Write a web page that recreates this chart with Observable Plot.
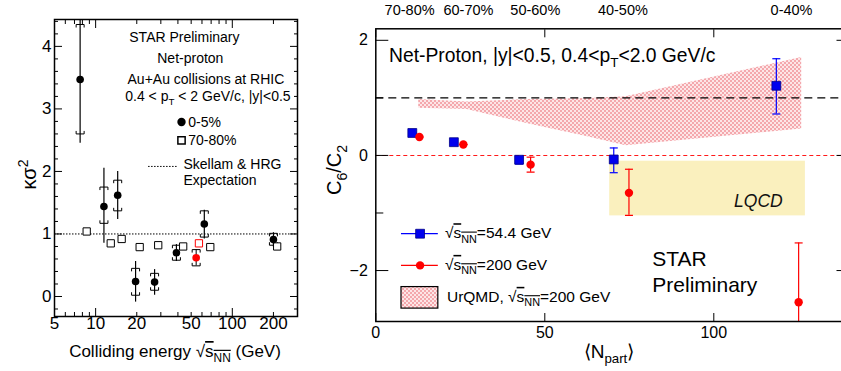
<!DOCTYPE html>
<html>
<head>
<meta charset="utf-8">
<script src="https://cdn.jsdelivr.net/npm/d3@7"></script>
<script src="https://cdn.jsdelivr.net/npm/@observablehq/plot@0.6"></script>
<style>
  html, body { margin: 0; padding: 0; background: #fff; }
  #wrap { position: relative; width: 841px; height: 371px; overflow: hidden; background: #fff; }
  #left, #right { position: absolute; top: 0; }
  #left { left: 0; width: 310px; }
  #right { left: 310px; width: 550px; }
  #left svg, #right svg { max-width: none !important; }
</style>
</head>
<body>
<div id="wrap"><div id="left"></div><div id="right"></div></div>
<script>
const FONT = '"Liberation Sans", Arial, Helvetica, sans-serif';

// ===== Left panel: net-proton kappa*sigma^2 vs colliding energy =====
const energyCentral = [7.7, 11.5, 14.5, 19.6, 27, 39, 62.4, 200];
const ksCentral     = [3.47, 1.44, 1.62, 0.24, 0.23, 0.70, 1.16, 0.91];
const statLoCentral = [2.45, 0.85, 1.23, -0.09, 0.02, 0.56, 0.92, 0.79];
const statHiCentral = [4.60, 2.05, 2.00, 0.56, 0.43, 0.83, 1.38, 1.02];
const sysLoCentral  = [2.60, 1.17, 1.37, 0.02, 0.10, 0.58, 0.95, 0.82];
const sysHiCentral  = [4.35, 1.75, 1.86, 0.45, 0.37, 0.82, 1.37, 1.01];

const energyPeriph = [8.6, 12.9, 15.5, 21.0, 28.7, 43.7, 69, 213];
const ksPeriph     = [1.04, 0.85, 0.92, 0.79, 0.82, 0.80, 0.79, 0.80];

const energyNewCentral = [54.4];
const ksNewCentral     = [0.62];
const sysLoNewCentral  = [0.49];
const sysHiNewCentral  = [0.75];
const energyNewPeriph  = [57];
const ksNewPeriph      = [0.85];

const xLabelsL = [5, 10, 20, 50, 100, 200];
const xMajorL  = [10, 100];
const xMinorL  = [6, 7, 8, 9, 20, 30, 40, 50, 60, 70, 80, 90, 200, 300];
const yLabelsL = [0, 1, 2, 3, 4];
const yMinorL  = [-0.2, 0.2, 0.4, 0.6, 0.8, 1.2, 1.4, 1.6, 1.8, 2.2, 2.4, 2.6, 2.8, 3.2, 3.4, 3.6, 3.8, 4.2, 4.4];

const noteTextL = ["STAR Preliminary", "Net-proton", "Au+Au collisions at RHIC"];
const noteXL = [44.6, 49.3, 64.1];
const noteYL = [4.144, 3.808, 3.472];

const legTextL = ["0-5%", "70-80%", "Skellam & HRG", "Expectation"];
const legTextXL = [47.6, 47.6, 43.9, 43.9];
const legTextYL = [2.79, 2.496, 2.112, 1.856];

// ===== Right panel: C6/C2 vs <Npart> =====
const npart544 = [10.8, 23.1, 42.4, 70.4, 118.5];
const c6c2_544 = [0.39, 0.23, -0.075, -0.07, 1.21];
const errLo544 = [0.39, 0.23, -0.15, -0.30, 0.72];
const errHi544 = [0.39, 0.23, -0.03, 0.13, 1.68];

const npart200 = [12.9, 25.9, 45.8, 74.9, 125.1];
const c6c2_200 = [0.32, 0.19, -0.16, -0.65, -2.55];
const errLo200 = [0.32, 0.19, -0.29, -1.04, -3.58];
const errHi200 = [0.32, 0.19, -0.03, -0.24, -1.52];

const urqmdNpart = [12.7, 27, 45, 63, 74, 126];
const urqmdLo    = [0.82, 0.80, 0.55, 0.32, 0.17, 0.46];
const urqmdHi    = [0.97, 0.93, 0.97, 0.99, 1.02, 1.70];

const lqcdNpart = [69.2, 127.1];
const lqcdC6C2  = [-1.05, -0.10];

const centLabels = ["70-80%", "60-70%", "50-60%", "40-50%", "0-40%"];
const centNpart  = [10.0, 27.4, 47.2, 73.1, 123.0];

const xLabelsR = [0, 50, 100];
const yLabelsR = [-2, 0, 2];
const yMinorR  = [-1, 1];

// ---- helpers ----
function rich(sel, x, y, parts, o = {}) {
  const size = o.size || 14;
  const t = sel.append("text")
    .attr("transform", `translate(${x},${y})` + (o.rotate ? ` rotate(${o.rotate})` : ""))
    .attr("text-anchor", o.anchor || "start")
    .attr("font-size", size)
    .attr("font-family", FONT)
    .attr("fill", o.fill || "black");
  let cur = 0;
  for (const p of parts) {
    const [s, k = ""] = Array.isArray(p) ? p : [p];
    if (k === "sqrtsnn") {
      t.append("tspan").text("√").attr("dy", -cur);
      const ov = t.append("tspan").attr("text-decoration", "overline");
      ov.append("tspan").text("s");
      ov.append("tspan").text("NN").attr("font-size", size * 0.7).attr("dy", size * 0.28);
      cur = size * 0.28;
      continue;
    }
    const small = k === "sub" || k === "sup";
    const off = k === "sub" ? size * 0.28 : k === "sup" ? -size * 0.42 : 0;
    const ts = t.append("tspan").text(s).attr("dy", off - cur);
    if (small) ts.attr("font-size", size * 0.7);
    cur = off;
  }
  return t;
}
const capSym = {draw(c) { c.moveTo(-4, 0); c.lineTo(4, 0); }};
const brTop  = {draw(c) { c.moveTo(-4, 3); c.lineTo(-4, 0); c.lineTo(4, 0); c.lineTo(4, 3); }};
const brBot  = {draw(c) { c.moveTo(-4, -3); c.lineTo(-4, 0); c.lineTo(4, 0); c.lineTo(4, -3); }};
const blank = () => "";

// ===== LEFT PLOT =====
const left = Plot.plot({
  width: 310, height: 371,
  marginLeft: 54, marginRight: 13, marginTop: 19, marginBottom: 55,
  style: {fontFamily: FONT, background: "white", color: "black", maxWidth: "none"},
  x: {type: "log", domain: [5, 300]},
  y: {domain: [-0.32, 4.43]},
  marks: [
    // tick labels
    Plot.text(xLabelsL, {x: d => d, frameAnchor: "bottom", dy: 12, fontSize: 17, text: d => String(d), textAnchor: "middle"}),
    Plot.axisY(yLabelsL, {anchor: "left", tickSize: 0, tickPadding: 3, fontSize: 17, label: null, tickFormat: d => String(d)}),
    // inward ticks
    Plot.axisX(xMajorL, {anchor: "bottom", tickSize: -8, tickFormat: blank, label: null}),
    Plot.axisX(xMinorL, {anchor: "bottom", tickSize: -4, tickFormat: blank, label: null}),
    Plot.axisX(xMajorL, {anchor: "top", tickSize: -8, tickFormat: blank, label: null}),
    Plot.axisX(xMinorL, {anchor: "top", tickSize: -4, tickFormat: blank, label: null}),
    Plot.axisY(yLabelsL, {anchor: "left", tickSize: -8, tickFormat: blank, label: null}),
    Plot.axisY(yMinorL, {anchor: "left", tickSize: -4, tickFormat: blank, label: null}),
    Plot.axisY(yLabelsL, {anchor: "right", tickSize: -8, tickFormat: blank, label: null}),
    Plot.axisY(yMinorL, {anchor: "right", tickSize: -4, tickFormat: blank, label: null}),
    Plot.ruleY([1], {stroke: "black", strokeDasharray: "1.5,1.5", strokeWidth: 1}),
    // statistical errors (0-5%)
    Plot.ruleX(energyCentral, {x: energyCentral, y1: statLoCentral, y2: statHiCentral, stroke: "black", strokeWidth: 1.2, clip: true}),
    // systematic brackets
    Plot.dot(energyCentral, {x: energyCentral, y: sysHiCentral, symbol: brTop, stroke: "black", fill: "none", strokeWidth: 1}),
    Plot.dot(energyCentral, {x: energyCentral, y: sysLoCentral, symbol: brBot, stroke: "black", fill: "none", strokeWidth: 1}),
    Plot.dot(energyNewCentral, {x: energyNewCentral, y: sysHiNewCentral, symbol: brTop, stroke: "black", fill: "none", strokeWidth: 1}),
    Plot.dot(energyNewCentral, {x: energyNewCentral, y: sysLoNewCentral, symbol: brBot, stroke: "black", fill: "none", strokeWidth: 1}),
    Plot.ruleX(energyNewCentral, {x: energyNewCentral, y1: sysLoNewCentral, y2: sysHiNewCentral, stroke: "black", strokeWidth: 1}),
    // 70-80% squares
    Plot.dot(energyPeriph, {x: energyPeriph, y: ksPeriph, symbol: "square", r: 4.1, fill: "white", stroke: "black", strokeWidth: 1}),
    Plot.dot(energyNewPeriph, {x: energyNewPeriph, y: ksNewPeriph, symbol: "square", r: 4.1, fill: "white", stroke: "red", strokeWidth: 1}),
    // 0-5% circles
    Plot.dot(energyCentral, {x: energyCentral, y: ksCentral, r: 3.8, fill: "black"}),
    Plot.dot(energyNewCentral, {x: energyNewCentral, y: ksNewCentral, r: 3.8, fill: "red"}),
    // annotations
    Plot.text(noteTextL, {x: noteXL, y: noteYL, text: d => d, fontSize: 14, textAnchor: "middle"}),
    Plot.dot([0], {x: [42.5], y: [2.79], r: 4.2, fill: "black"}),
    Plot.dot([0], {x: [42.5], y: [2.496], symbol: "square", r: 4.1, fill: "white", stroke: "black"}),
    Plot.ruleY([2.08], {x1: 24.4, x2: 40.4, stroke: "black", strokeDasharray: "1.5,1.5"}),
    Plot.text(legTextL, {x: legTextXL, y: legTextYL, text: d => d, fontSize: 14, textAnchor: "start"}),
    Plot.frame({stroke: "black", strokeWidth: 1.5})
  ]
});
document.getElementById("left").append(left);
{
  const sx = left.scale("x"), sy = left.scale("y");
  const g = d3.select(left);
  rich(g, sx.apply(16.6), sy.apply(3.2) + 5, ["0.4 < p", ["T", "sub"], " < 2 GeV/c, |y|<0.5"], {size: 14});
  rich(g, 36, 174.5, ["κσ", ["2", "sup"]], {size: 20, rotate: -90, anchor: "middle"});
  rich(g, 175, 357, ["Colliding energy ", ["", "sqrtsnn"], [" (GeV)"]], {size: 17, anchor: "middle"});
}

// ===== RIGHT PLOT =====
const right = Plot.plot({
  width: 550, height: 371,
  marginLeft: 65.3, marginRight: 11.5, marginTop: 28.3, marginBottom: 50,
  style: {fontFamily: FONT, background: "white", color: "black", maxWidth: "none"},
  x: {domain: [0, 140]},
  y: {domain: [-2.885, 2.2]},
  marks: [
    () => {
      const defs = d3.create("svg:defs");
      const p = defs.append("pattern").attr("id", "urqmdPat").attr("patternUnits", "userSpaceOnUse").attr("width", 4).attr("height", 4);
      p.append("rect").attr("width", 4).attr("height", 4).attr("fill", "#fde6e7");
      p.append("rect").attr("width", 2).attr("height", 2).attr("fill", "#f4a8ad");
      p.append("rect").attr("x", 2).attr("y", 2).attr("width", 2).attr("height", 2).attr("fill", "#f4a8ad");
      return defs.node();
    },
    Plot.rect([0], {x1: [lqcdNpart[0]], x2: [lqcdNpart[1]], y1: [lqcdC6C2[0]], y2: [lqcdC6C2[1]], fill: "#faf0be"}),
    Plot.areaY(urqmdNpart, {x: urqmdNpart, y1: urqmdLo, y2: urqmdHi, fill: "url(#urqmdPat)"}),
    Plot.ruleY([1], {stroke: "#000", strokeDasharray: "8,5", strokeWidth: 1.2}),
    Plot.ruleY([0], {stroke: "#ff1a1a", strokeDasharray: "4,3", strokeWidth: 1.1}),
    // tick labels
    Plot.axisX(xLabelsR, {anchor: "bottom", tickSize: 0, tickPadding: 5, fontSize: 16, label: null, tickFormat: d => String(d)}),
    Plot.axisY(yLabelsR, {anchor: "left", tickSize: 0, tickPadding: 8, fontSize: 16, label: null, tickFormat: d => (d < 0 ? "\u2212" + Math.abs(d) : String(d))}),
    // inward ticks
    Plot.axisX(xLabelsR, {anchor: "bottom", tickSize: -8, tickFormat: blank, label: null}),
    Plot.axisX(xLabelsR, {anchor: "top", tickSize: -8, tickFormat: blank, label: null}),
    Plot.axisY(yLabelsR, {anchor: "left", tickSize: -13, tickFormat: blank, label: null}),
    Plot.axisY(yMinorR, {anchor: "left", tickSize: -8, tickFormat: blank, label: null}),
    Plot.axisY(yLabelsR, {anchor: "right", tickSize: -13, tickFormat: blank, label: null}),
    Plot.axisY(yMinorR, {anchor: "right", tickSize: -8, tickFormat: blank, label: null}),
    // error bars
    Plot.ruleX(npart544, {x: npart544, y1: errLo544, y2: errHi544, stroke: "#0000ff", strokeWidth: 1.2}),
    Plot.dot(npart544, {x: npart544, y: errLo544, symbol: capSym, stroke: "#0000ff", strokeWidth: 1.2}),
    Plot.dot(npart544, {x: npart544, y: errHi544, symbol: capSym, stroke: "#0000ff", strokeWidth: 1.2}),
    Plot.ruleX(npart200, {x: npart200, y1: errLo200, y2: errHi200, stroke: "#ff0000", strokeWidth: 1.2, clip: true}),
    Plot.dot(npart200, {x: npart200, y: errLo200, symbol: capSym, stroke: "#ff0000", strokeWidth: 1.2, clip: true}),
    Plot.dot(npart200, {x: npart200, y: errHi200, symbol: capSym, stroke: "#ff0000", strokeWidth: 1.2}),
    // markers
    Plot.dot(npart544, {x: npart544, y: c6c2_544, symbol: "square", r: 5, fill: "#0000ee", stroke: "#000088", strokeWidth: 0.8}),
    Plot.dot(npart200, {x: npart200, y: c6c2_200, r: 4.2, fill: "#ff0000"}),
    // top centrality labels
    Plot.text(centLabels, {x: centNpart, y: () => 2.52, text: d => d, fontSize: 14.5, textAnchor: "middle"}),
    // LQCD
    Plot.text(["LQCD"], {x: [113.2], y: [-0.793], text: d => d, fontSize: 17.5, fontStyle: "italic", textAnchor: "middle", fill: "#111"}),
    // STAR Preliminary
    Plot.text(["STAR", "Preliminary"], {x: [81.8, 81.8], y: [-1.806, -2.257], text: d => d, fontSize: 21, textAnchor: "start"}),
    // legend
    Plot.ruleY([-1.36], {x1: 7.6, x2: 18.5, stroke: "#0000ff", strokeWidth: 1.2}),
    Plot.dot([0], {x: [13.1], y: [-1.36], symbol: "square", r: 5, fill: "#0000ee", stroke: "#000088", strokeWidth: 0.8}),
    Plot.ruleY([-1.91], {x1: 7.6, x2: 18.5, stroke: "#ff0000", strokeWidth: 1.2}),
    Plot.dot([0], {x: [13.1], y: [-1.91], r: 4.2, fill: "#ff0000"}),
    Plot.rect([0], {x1: [7.6], x2: [18.5], y1: [-2.661], y2: [-2.287], fill: "url(#urqmdPat)", stroke: "black", strokeWidth: 1.2}),
    Plot.frame({stroke: "black", strokeWidth: 1.5})
  ]
});
document.getElementById("right").append(right);
{
  const sx = right.scale("x"), sy = right.scale("y");
  const g = d3.select(right);
  rich(g, sx.apply(4.05), sy.apply(1.736) + 7, ["Net-Proton, |y|<0.5, 0.4<p", ["T", "sub"], "<2.0 GeV/c"], {size: 19.3});
  rich(g, sx.apply(20.6), sy.apply(-1.36) + 5, [["", "sqrtsnn"], "=54.4 GeV"], {size: 15.5});
  rich(g, sx.apply(20.6), sy.apply(-1.91) + 5, [["", "sqrtsnn"], "=200 GeV"], {size: 15.5});
  rich(g, sx.apply(21.2), sy.apply(-2.465) + 5, ["UrQMD, ", ["", "sqrtsnn"], "=200 GeV"], {size: 15.5});
  rich(g, 31, 170, ["C", ["6", "sub"], "/C", ["2", "sub"]], {size: 20, rotate: -90, anchor: "middle"});
  rich(g, 299, 358, ["⟨N", ["part", "sub"], "⟩"], {size: 19, anchor: "middle"});
}
</script>
</body>
</html>
